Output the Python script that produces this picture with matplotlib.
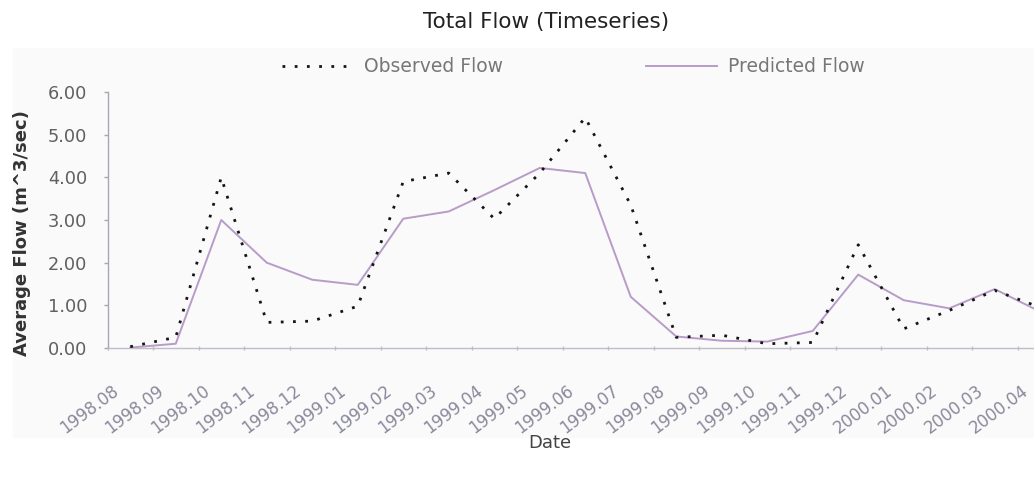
import numpy as np
import matplotlib
matplotlib.use('Agg')
import matplotlib.pyplot as plt
from matplotlib.patches import Rectangle
from matplotlib.transforms import ScaledTranslation

months = ['1998.08', '1998.09', '1998.10', '1998.11', '1998.12',
          '1999.01', '1999.02', '1999.03', '1999.04', '1999.05',
          '1999.06', '1999.07', '1999.08', '1999.09', '1999.10',
          '1999.11', '1999.12', '2000.01', '2000.02', '2000.03',
          '2000.04']
observed = [0.03, 0.25, 4.00, 0.60, 0.63, 0.98, 3.90, 4.10, 3.03, 4.10,
            5.40, 3.35, 0.25, 0.30, 0.10, 0.13, 2.42, 0.45, 0.88, 1.35,
            0.95]
predicted = [0.01, 0.10, 3.00, 2.00, 1.60, 1.48, 3.03, 3.20, 3.70, 4.22,
             4.10, 1.20, 0.27, 0.17, 0.15, 0.40, 1.72, 1.12, 0.93, 1.38,
             0.85]
yticks = [0, 1, 2, 3, 4, 5, 6]

W, H = 1034, 480
fig = plt.figure(figsize=(W / 100, H / 100), dpi=100)
fig.patch.set_facecolor('white')

# light panel behind the chart
fig.patches.append(Rectangle((13 / W, 1 - 437 / H), 1 - 13 / W, (437 - 48) / H,
                             transform=fig.transFigure, color='#fafafa',
                             zorder=-10))

# plot area runs a little past the right edge
ax = fig.add_axes([107.5 / W, 1 - 348 / H, 955.5 / W, 256 / H])
ax.set_facecolor('none')

x = np.arange(len(months))
obs_line, = ax.plot(x, observed, color='#151515', lw=2.0,
                    linestyle=(0, (1, 3.4)), label='Observed Flow', zorder=3)
pred_line, = ax.plot(x, predicted, color='#b89cc8', lw=1.4,
                     label='Predicted Flow', zorder=2)

ax.set_xlim(-0.5, len(months) - 0.5)
ax.set_ylim(0, 6)
ax.set_yticks(yticks)
ax.set_yticklabels(['%.2f' % v for v in yticks])
ax.set_xticks(x)
ax.set_xticklabels(months)
ax.set_xticks(np.arange(-0.5, len(months), 1), minor=True)

for side in ['top', 'right']:
    ax.spines[side].set_visible(False)
ax.spines['left'].set_color('#a8a8b0')
ax.spines['bottom'].set_color('#c0bcc8')
ax.spines['left'].set_linewidth(1.0)
ax.spines['bottom'].set_linewidth(1.0)

ax.tick_params(axis='y', length=3, width=1, color='#a8a8b0', pad=11.5,
               labelsize=12.8, labelcolor='#606060')
ax.tick_params(axis='x', which='major', length=0, pad=24,
               labelsize=12, labelcolor='#8a8a9c')
ax.tick_params(axis='x', which='minor', length=3, width=1, color='#c0bcc8',
               direction='inout')

# rotated month labels hang down-left from just left of each category
shift = ScaledTranslation(-19 / 100, 0, fig.dpi_scale_trans)
for lab in ax.get_xticklabels():
    lab.set_rotation(37)
    lab.set_ha('right')
    lab.set_va('top')
    lab.set_rotation_mode('anchor')
    lab.set_transform(lab.get_transform() + shift)

fig.text(546 / W, 1 - 22 / H, 'Total Flow (Timeseries)', ha='center',
         va='center', fontsize=15.5, color='#222222')
fig.text(22 / W, 1 - 233.5 / H, 'Average Flow (m^3/sec)', rotation=90,
         ha='center', va='center', fontsize=13, fontweight='bold',
         color='#333333')
fig.text(550 / W, 1 - 443 / H, 'Date', ha='center', va='center',
         fontsize=13, color='#444444')

fig.legend(handles=[obs_line, pred_line], loc='center',
           bbox_to_anchor=(573.5 / W, 1 - 67 / H), ncol=2, frameon=False,
           fontsize=13.5, labelcolor='#777777', handlelength=3.8,
           handletextpad=0.6, columnspacing=7.6, borderpad=0)

fig.savefig('out.png', dpi=100)
